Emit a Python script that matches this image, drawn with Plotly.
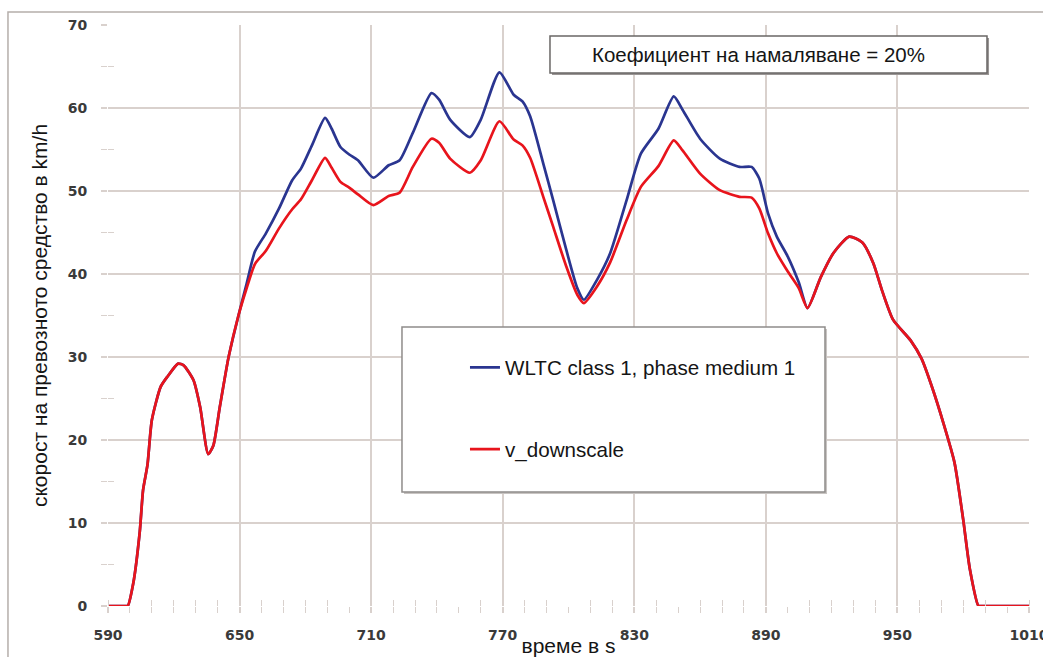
import plotly.graph_objects as go

# time in s
time_s = [590, 598, 599, 601.5, 604.5, 606, 608, 610, 614, 617, 622, 624.5, 629, 632, 635.7, 638,
          641, 645, 649.5, 653, 657, 662, 668, 674, 678, 683, 689, 692, 696, 700, 704, 711,
          718, 723, 729, 737.5, 741, 746, 755, 760, 768.5, 775, 779, 782.5, 788.5, 793, 799,
          804, 807, 813, 819, 826.5, 833, 841, 848, 852, 860, 869, 878, 883.5, 887, 891, 895,
          900, 905, 909, 915, 921, 928, 934, 939, 943, 948, 956, 961, 966, 971, 976, 980, 983,
          987, 988, 1010]

# WLTC class 1, phase medium 1 (km/h)
v_wltc = [0, 0, 0, 2.7, 9, 14, 17, 22.4, 26.4, 27.6, 29.2, 29.0, 27.2, 24, 18.3, 19.3,
          24, 30, 35, 38.6, 42.7, 44.9, 47.9, 51.3, 52.7, 55.5, 58.8, 57.5, 55.3, 54.4, 53.7, 51.6,
          53.1, 53.7, 57, 61.8, 61, 58.6, 56.5, 58.6, 64.3, 61.6, 60.8, 59, 53.3, 48.9, 42.9,
          38.3, 36.9, 39.3, 42.5, 48.9, 54.5, 57.5, 61.4, 59.8, 56.3, 53.9, 52.9, 52.9, 51.5, 47.3, 44.5,
          42.1, 39.0, 35.9, 39.6, 42.6, 44.5, 43.8, 41.3, 38.0, 34.5, 32, 29.8, 26.2, 22, 17.3, 10.4, 4.5,
          0, 0, 0]

# v_downscale (km/h)
v_down = [0, 0, 0, 2.7, 9, 14, 17, 22.4, 26.4, 27.6, 29.2, 29.0, 27.2, 24, 18.3, 19.3,
          24, 30, 35, 38.1, 41.2, 42.8, 45.5, 47.8, 49.0, 51.3, 54.0, 52.8, 51.1, 50.4, 49.6, 48.3,
          49.4, 49.8, 52.9, 56.3, 55.8, 53.9, 52.2, 53.7, 58.4, 56.2, 55.5, 54.0, 49.3, 45.7, 40.9,
          37.5, 36.5, 38.5, 41.4, 46.5, 50.5, 53.0, 56.1, 54.9, 52.1, 50.1, 49.3, 49.2, 47.9, 44.9, 42.5,
          40.3, 38.3, 35.9, 39.6, 42.6, 44.5, 43.8, 41.3, 38.0, 34.5, 32, 29.8, 26.2, 22, 17.3, 10.4, 4.5,
          0, 0, 0]

x_ticks = [590, 650, 710, 770, 830, 890, 950, 1010]
y_ticks = [0, 10, 20, 30, 40, 50, 60, 70]

series_names = ["WLTC class 1, phase medium 1", "v_downscale"]
series_colors = ["#2a3590", "#e8141c"]

GRID = "#d9d1cd"
TICKFONT = dict(family="DejaVu Sans", size=14, color="#3a3a3a", weight="bold")
TXT = "Liberation Sans"

fig = go.Figure()
fig.add_trace(go.Scatter(x=time_s, y=v_wltc, mode="lines", name=series_names[0],
                         legendgroup="a", cliponaxis=False,
                         line=dict(color=series_colors[0], width=2.7, shape="spline", smoothing=0.6)))
fig.add_trace(go.Scatter(x=time_s, y=v_down, mode="lines", name=series_names[1],
                         legendgroup="b", xaxis="x2", yaxis="y2", cliponaxis=False,
                         line=dict(color=series_colors[1], width=2.7, shape="spline", smoothing=0.6)))

xr = [x_ticks[0], x_ticks[-1]]
yr = [y_ticks[0], y_ticks[-1]]

fig.update_layout(
    width=1043, height=657,
    margin=dict(l=108, r=14, t=25, b=51),
    paper_bgcolor="white", plot_bgcolor="white",
    showlegend=True,
    legend=dict(x=0.3876, y=0.445, xanchor="left", yanchor="top",
                bgcolor="rgba(0,0,0,0)", borderwidth=0,
                font=dict(family=TXT, size=20.6, color="#151515"),
                traceorder="grouped", tracegroupgap=52, itemwidth=30),
    xaxis=dict(range=xr, tickvals=x_ticks, showgrid=True, gridcolor=GRID, gridwidth=1.6,
               zeroline=False, showline=False, ticks="outside", ticklen=6, tickcolor=GRID,
               tickwidth=1.6, tickfont=TICKFONT, ticklabelstandoff=10,
               ticklabeloverflow="allow", automargin=False,
               minor=dict(dtick=10, ticks="outside", ticklen=6, tickcolor=GRID, tickwidth=1.4,
                          showgrid=False),
               title=dict(text="време в s", font=dict(family=TXT, size=21, color="#151515"),
                          standoff=0),
               fixedrange=True),
    yaxis=dict(range=yr, tickvals=y_ticks, showgrid=True, gridcolor=GRID, gridwidth=1.6,
               zeroline=False, showline=False, ticks="outside", ticklen=6, tickcolor=GRID,
               tickwidth=1.6, tickfont=TICKFONT, ticklabelstandoff=11, automargin=False,
               minor=dict(dtick=5, ticks="outside", ticklen=6, tickcolor=GRID, tickwidth=1.4,
                          showgrid=False),
               title=dict(text="скорост на превозното средство в km/h",
                          font=dict(family=TXT, size=21, color="#151515"), standoff=14),
               fixedrange=True),
    xaxis2=dict(range=xr, overlaying="x", anchor="y2", showgrid=False, zeroline=False,
                showticklabels=False, ticks="", showline=False, automargin=False,
                minor=dict(dtick=10, ticks="inside", ticklen=6, tickcolor=GRID, tickwidth=1.4,
                           showgrid=False)),
    yaxis2=dict(range=yr, overlaying="y", anchor="x2", showgrid=False, zeroline=False,
                showticklabels=False, ticks="", showline=False, automargin=False,
                minor=dict(dtick=5, ticks="inside", ticklen=6, tickcolor=GRID, tickwidth=1.4,
                           showgrid=False)),
)

# outer frame of the picture
fig.add_shape(type="rect", xref="paper", yref="paper",
              x0=-0.1086, x1=1.1, y0=-0.2, y1=1.0224,
              line=dict(color="#b5aeab", width=1.5), fillcolor="rgba(0,0,0,0)", layer="below")

# legend box (shadow + box)
fig.add_shape(type="rect", xref="paper", yref="paper",
              x0=0.3214, x1=0.7807, y0=0.1928, y1=0.4768,
              line=dict(width=0), fillcolor="#c8c4c2", layer="above")
fig.add_shape(type="rect", xref="paper", yref="paper",
              x0=0.3192, x1=0.7785, y0=0.1962, y1=0.4802,
              line=dict(color="#8f8c8a", width=1.5), fillcolor="white", layer="above")

# note box (shadow + box)
fig.add_shape(type="rect", xref="paper", yref="paper",
              x0=0.4821, x1=0.9566, y0=0.9140, y1=0.9777,
              line=dict(width=0), fillcolor="#9a9695", layer="above")
fig.add_shape(type="rect", xref="paper", yref="paper",
              x0=0.4799, x1=0.9544, y0=0.9174, y1=0.9811,
              line=dict(color="#6a6766", width=1.5), fillcolor="white", layer="above")
fig.add_annotation(xref="paper", yref="paper", x=0.7068, y=0.9484,
                   text="Коефициент на намаляване = 20%", showarrow=False,
                   xanchor="center", yanchor="middle",
                   font=dict(family=TXT, size=20.5, color="#151515"))

fig.write_html("out.html")
